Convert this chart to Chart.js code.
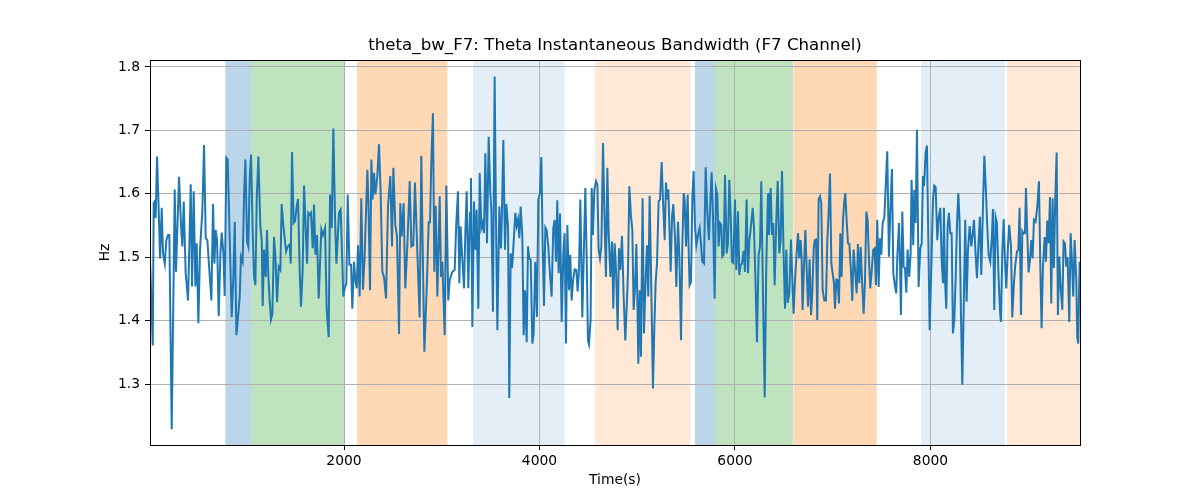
<!DOCTYPE html>
<html>
<head>
<meta charset="utf-8">
<script src="https://cdn.jsdelivr.net/npm/chart.js@4.4.1/dist/chart.umd.min.js"></script>
<style>
html,body{margin:0;padding:0;background:#fff;}
#wrap{width:1200px;height:500px;position:relative;}
</style>
</head>
<body>
<div id="wrap"><canvas id="c" width="1200" height="500"></canvas></div>
<script>
// ---- data ----
const times = [
15,43,53,63,73,87,101,118,135,148,166,182,200,213,237,268,281,312,333,346,360,380,404,432,445,462,479,493,510,527,551,568,585,602,622,643,660,674,687,701,718,735,749,766,779,796,810,830,851,868,882,899,916,933,946,963,977,991,1008,1021,1035,1049,1066,1079,1093,1107,1124,1144,1158,1168,1182,1199,1212,1226,1240,1253,1267,1284,1298,1315,1332,1349,1362,1380,1407,1424,1444,1455,1468,1485,1499,1516,1530,1547,1560,1577,1591,
1622,1635,1649,1662,1680,1693,1707,1724,1741,1768,1785,1806,1823,1843,1857,1874,1891,1908,1922,1949,1966,1980,1993,2007,2024,2038,2055,2072,2085,2102,2116,2130,2143,2160,2177,2194,2211,2225,2239,2249,2266,2280,2293,2307,2321,2341,2358,2375,2392,2409,2430,2450,2474,2491,2505,2525,2542,2563,2576,2590,2610,2627,2648,2672,2689,2709,2726,2747,2774,2791,2808,2822,2849,2866,2880,2893,2910,2924,2938,2955,2979,2992,3006,3030,3047,3067,3081,3108,3132,3149,3166,
3180,3193,3207,3228,3241,3255,3272,3289,3299,3313,3330,3344,3357,3374,3388,3405,3419,3432,3446,3463,3480,3497,3507,3524,3541,3555,3569,3589,3606,3616,3630,3647,3661,3678,3691,3705,3719,3732,3753,3766,3780,3794,3807,3824,3838,3852,3869,3882,3896,3910,3927,3940,3957,3974,3988,4005,4019,4032,4046,4060,4073,4090,4107,4124,4141,4155,4169,4182,4196,4210,4227,4244,4257,4271,4285,4302,4315,4329,4343,4360,4377,4390,4404,4418,4438,4452,4469,4483,4496,4506,4523,4534,4547,4561,4578,4592,4605,4619,4633,4650,4667,4680,4694,4708,4725,4742,4755,4769,
4783,4800,4813,4827,4844,4861,4878,4895,4905,4919,4936,4950,4963,4977,4991,5001,5011,5025,5038,5055,5069,5086,5100,5113,5127,5141,5161,5175,5188,5202,5219,5233,5250,5263,5281,5294,5304,5318,5332,5342,5356,5369,5386,5400,5417,5431,5448,5461,5475,5485,5499,5516,5526,5536,5550,5564,5577,5591,5605,5622,5639,5652,5666,5683,5700,5717,5734,5748,5761,5775,5792,5806,5819,5833,5847,5860,5870,5884,5898,5915,5928,5942,5956,5969,5983,6000,6014,6031,6044,6058,6072,6089,6102,6119,6133,6147,6167,6181,6194,6208,6225,6242,6256,6269,6287,6304,6321,6338,6348,
6365,6379,6392,6406,6423,6437,6454,6467,6481,6498,6512,6525,6539,6556,6573,6587,6600,6614,6631,6645,6658,6672,6682,6692,6706,6720,6733,6747,6764,6778,6791,6805,6815,6829,6842,6856,6870,6883,6897,6914,6931,6945,6958,6972,6986,6999,7013,7023,7037,7050,7064,7078,7091,7105,7118,7129,7142,7156,7170,7187,7200,7214,7231,7245,7258,7272,7286,7303,7316,7330,7344,7357,7371,7384,7398,7415,7429,7442,7456,7470,7483,7497,7511,7528,7541,7558,7575,7592,7606,7620,7633,7650,7661,7678,7688,7698,7712,7726,7739,7753,7766,7783,7797,7807,7824,7835,7848,7862,7879,7896,7910,7923,
7934,7951,7964,7974,7992,8009,8026,8039,8053,8070,8084,8101,8114,8128,8138,8148,8162,8176,8189,8203,8217,8230,8244,8258,8271,8285,8298,8312,8326,8339,8356,8370,8384,8401,8418,8431,8445,8462,8476,8493,8506,8520,8537,8551,8568,8581,8595,8612,8629,8639,8653,8667,8680,8697,8711,8721,8735,8749,8762,8776,8793,8806,8824,8837,8854,8868,8885,8899,8912,8926,8940,8953,8967,8977,8991,9004,9018,9032,9045,9059,9076,9093,9110,9124,9137,9151,9168,9182,9195,9209,9223,9236,9250,9263,9277,9291,9304,9318,9332,9349,9362,9376,9390,9403,9420,9434,9447,9461,9475,9492,9502,9512,9526
];
const values = [
1.500,1.361,1.586,1.588,1.562,1.659,1.591,1.498,1.578,1.506,1.490,1.527,1.535,1.535,1.229,1.607,1.477,1.627,1.549,1.517,1.588,1.475,1.432,1.615,1.454,1.604,1.454,1.522,1.396,1.512,1.575,1.677,1.530,1.527,1.480,1.432,1.584,1.490,1.543,1.527,1.407,1.506,1.539,1.506,1.439,1.657,1.654,1.533,1.406,1.469,1.556,1.377,1.406,1.438,1.501,1.493,1.596,1.654,1.525,1.517,1.625,1.662,1.538,1.469,1.456,1.591,1.659,1.549,1.527,1.423,1.512,1.469,1.543,1.469,1.430,1.402,1.411,1.532,1.501,1.429,1.485,1.480,1.584,1.549,1.509,1.517,1.520,1.490,1.666,1.554,1.557,1.580,1.592,1.475,1.422,1.480,1.613,
1.490,1.570,1.567,1.570,1.514,1.583,1.504,1.535,1.435,1.544,1.535,1.546,1.417,1.374,1.599,1.546,1.703,1.562,1.490,1.570,1.575,1.506,1.438,1.451,1.459,1.599,1.488,1.488,1.419,1.493,1.464,1.451,1.519,1.438,1.593,1.449,1.501,1.572,1.638,1.591,1.448,1.654,1.591,1.633,1.599,1.628,1.678,1.601,1.477,1.469,1.435,1.580,1.628,1.517,1.641,1.551,1.533,1.379,1.585,1.533,1.585,1.451,1.519,1.620,1.517,1.519,1.618,1.522,1.405,1.660,1.485,1.351,1.464,1.555,1.555,1.649,1.727,1.477,1.581,1.438,1.596,1.469,1.493,1.377,1.613,1.432,1.464,1.477,1.480,1.554,1.604,
1.459,1.549,1.506,1.451,1.538,1.604,1.451,1.570,1.625,1.390,1.588,1.512,1.575,1.419,1.633,1.546,1.554,1.538,1.664,1.522,1.690,1.601,1.575,1.414,1.785,1.559,1.385,1.580,1.514,1.572,1.685,1.512,1.584,1.549,1.278,1.506,1.483,1.514,1.570,1.550,1.560,1.530,1.580,1.535,1.377,1.448,1.366,1.517,1.498,1.496,1.364,1.380,1.493,1.406,1.591,1.601,1.658,1.520,1.423,1.547,1.543,1.517,1.474,1.438,1.546,1.559,1.493,1.590,1.475,1.569,1.398,1.506,1.538,1.364,1.551,1.448,1.504,1.432,1.463,1.481,1.480,1.446,1.480,1.591,1.405,1.498,1.609,1.496,1.369,1.363,1.401,1.609,1.535,1.606,1.620,1.615,1.512,1.498,1.517,1.680,1.549,1.469,1.641,1.538,1.469,1.525,1.419,1.522,
1.480,1.385,1.514,1.480,1.534,1.438,1.369,1.432,1.475,1.612,1.564,1.543,1.417,1.451,1.521,1.438,1.332,1.448,1.343,1.593,1.380,1.464,1.519,1.438,1.597,1.477,1.293,1.390,1.459,1.490,1.588,1.591,1.650,1.591,1.527,1.618,1.591,1.607,1.533,1.477,1.564,1.584,1.533,1.453,1.556,1.501,1.369,1.517,1.601,1.591,1.517,1.599,1.512,1.456,1.461,1.596,1.636,1.549,1.519,1.535,1.546,1.522,1.493,1.490,1.642,1.570,1.527,1.588,1.634,1.564,1.435,1.608,1.599,1.517,1.554,1.551,1.501,1.504,1.630,1.506,1.522,1.622,1.564,1.493,1.491,1.591,1.480,1.572,1.472,1.488,1.490,1.510,1.477,1.591,1.475,1.525,1.554,1.578,1.549,1.475,1.366,1.504,1.517,1.620,1.438,1.279,1.493,1.601,1.535,
1.609,1.535,1.554,1.456,1.559,1.620,1.506,1.527,1.636,1.501,1.419,1.512,1.428,1.443,1.528,1.464,1.411,1.464,1.506,1.538,1.498,1.527,1.496,1.417,1.485,1.543,1.485,1.422,1.497,1.409,1.443,1.512,1.527,1.528,1.401,1.591,1.596,1.585,1.448,1.432,1.432,1.527,1.570,1.632,1.491,1.475,1.459,1.419,1.465,1.464,1.427,1.538,1.469,1.559,1.588,1.601,1.559,1.522,1.521,1.477,1.431,1.512,1.475,1.443,1.521,1.459,1.516,1.453,1.411,1.461,1.572,1.559,1.496,1.451,1.477,1.512,1.514,1.456,1.559,1.453,1.530,1.504,1.554,1.562,1.609,1.667,1.501,1.585,1.639,1.475,1.459,1.443,1.501,1.554,1.493,1.409,1.572,1.485,1.483,1.444,1.512,1.469,1.506,1.622,1.519,1.606,1.554,1.701,1.453,1.514,1.522,1.628,
1.612,1.665,1.676,1.572,1.385,1.485,1.591,1.613,1.611,1.527,1.562,1.578,1.498,1.459,1.578,1.467,1.419,1.549,1.570,1.538,1.538,1.380,1.401,1.467,1.549,1.601,1.556,1.411,1.299,1.409,1.559,1.430,1.512,1.549,1.517,1.535,1.559,1.504,1.467,1.527,1.564,1.472,1.578,1.660,1.602,1.549,1.504,1.493,1.535,1.576,1.417,1.563,1.554,1.469,1.417,1.398,1.506,1.560,1.496,1.451,1.517,1.551,1.517,1.405,1.459,1.488,1.509,1.512,1.578,1.409,1.541,1.537,1.538,1.609,1.535,1.476,1.496,1.527,1.498,1.559,1.556,1.580,1.620,1.485,1.388,1.485,1.532,1.493,1.558,1.522,1.595,1.427,1.593,1.483,1.592,1.665,1.409,1.501,1.453,1.417,1.525,1.522,1.485,1.500,1.398,1.538,1.496,1.438,1.527,1.464,1.374,1.364,1.493
];
// shaded periods (start, end, kind)
const bandStarts = [786, 1052, 2133, 3320, 4568, 5591, 5798, 6598, 7903, 8784];
const bandEnds   = [1052, 2007, 3057, 4258, 5543, 5798, 6593, 7450, 8762, 9530];
const bandKinds  = ['blue','green','orange','lightblue','lightorange','blue','green','orange','lightblue','lightorange'];
const xTicks = [2000, 4000, 6000, 8000];
const yTicks = [1.3, 1.4, 1.5, 1.6, 1.7, 1.8];
const xMin = 15, xMax = 9530, yMin = 1.204, yMax = 1.811;
const titleText = 'theta_bw_F7: Theta Instantaneous Bandwidth (F7 Channel)';
const xLabel = 'Time(s)';
const yLabel = 'Hz';

// ---- styles ----
const bandFill = {
  blue: 'rgba(31,119,180,0.3)',
  green: 'rgba(44,160,44,0.3)',
  orange: 'rgba(255,127,14,0.3)',
  lightblue: 'rgba(31,119,180,0.12)',
  lightorange: 'rgba(255,127,14,0.17)'
};
const FONT = '"DejaVu Sans", "Liberation Sans", sans-serif';
Chart.defaults.font.family = FONT;
Chart.defaults.color = '#000';

const bandsPlugin = {
  id: 'bands',
  beforeDraw(chart) {
    const {ctx, chartArea, scales} = chart;
    ctx.save();
    ctx.beginPath();
    ctx.rect(chartArea.left, chartArea.top, chartArea.right - chartArea.left, chartArea.bottom - chartArea.top);
    ctx.clip();
    for (let i = 0; i < bandStarts.length; i++) {
      const x0 = scales.x.getPixelForValue(bandStarts[i]);
      const x1 = scales.x.getPixelForValue(bandEnds[i]);
      ctx.fillStyle = bandFill[bandKinds[i]];
      ctx.fillRect(x0, chartArea.top, x1 - x0, chartArea.bottom - chartArea.top);
    }
    ctx.restore();
  },
  afterDatasetsDraw(chart) {
    const {ctx, chartArea} = chart;
    ctx.save();
    ctx.strokeStyle = '#000';
    ctx.lineWidth = 1;
    ctx.strokeRect(Math.round(chartArea.left) + 0.5, Math.round(chartArea.top) + 0.5,
      Math.round(chartArea.right - chartArea.left), Math.round(chartArea.bottom - chartArea.top));
    ctx.restore();
  }
};

const points = times.map((t, i) => ({x: t, y: values[i]}));

new Chart(document.getElementById('c'), {
  type: 'line',
  data: {
    datasets: [{
      data: points,
      borderColor: '#1f77b4',
      borderWidth: 2,
      pointRadius: 0,
      tension: 0,
      fill: false
    }]
  },
  options: {
    responsive: false,
    animation: false,
    events: [],
    layout: { padding: { left: 0, right: 120, top: 0, bottom: 0 } },
    plugins: {
      legend: { display: false },
      tooltip: { enabled: false },
      title: {
        display: true,
        fullSize: false,
        text: titleText,
        font: { size: 16.67, weight: 'normal', family: FONT },
        color: '#000',
        padding: { top: 36, bottom: 4 }
      }
    },
    scales: {
      x: {
        type: 'linear',
        min: xMin, max: xMax,
        afterBuildTicks(scale) { scale.ticks = xTicks.map(v => ({value: v})); },
        afterFit(scale) { scale.height = 55; },
        ticks: { font: { size: 13.89 }, padding: 3, maxRotation: 0, autoSkip: false,
                 callback: v => String(v) },
        grid: { color: '#b0b0b0', lineWidth: 1, tickLength: 5, tickColor: '#000', drawTicks: true },
        border: { display: false },
        title: { display: true, text: xLabel, font: { size: 13.89 }, padding: { top: 0, bottom: 11 } }
      },
      y: {
        type: 'linear',
        min: yMin, max: yMax,
        afterBuildTicks(scale) { scale.ticks = yTicks.map(v => ({value: v})); },
        afterFit(scale) { scale.width = 150; },
        ticks: { font: { size: 13.89 }, padding: 5, autoSkip: false,
                 callback: v => v.toFixed(1) },
        grid: { color: '#b0b0b0', lineWidth: 1, tickLength: 5, tickColor: '#000', drawTicks: true },
        border: { display: false },
        title: { display: true, text: yLabel, font: { size: 13.89 }, padding: { top: 97, bottom: 0 } }
      }
    }
  },
  plugins: [bandsPlugin]
});
</script>
</body>
</html>
